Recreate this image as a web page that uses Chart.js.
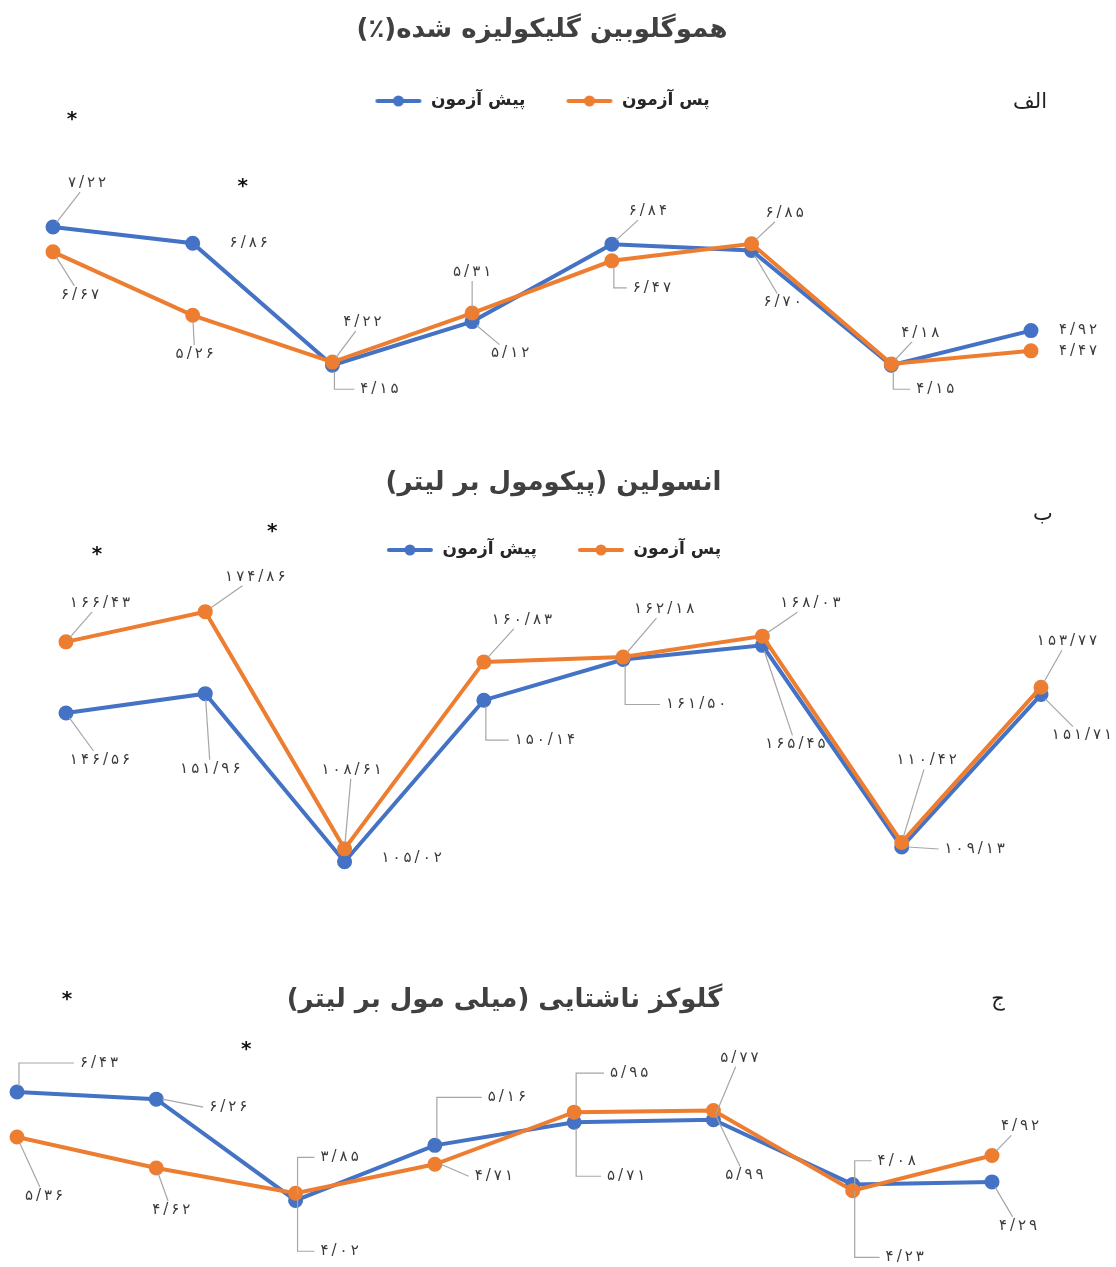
<!DOCTYPE html>
<html><head><meta charset="utf-8">
<script src="https://cdn.jsdelivr.net/npm/chart.js@4.4.0/dist/chart.umd.min.js"></script>
<style>
html,body{margin:0;padding:0;background:#fff;}
#wrap{position:relative;width:1116px;height:1267px;overflow:hidden;background:#fff;}
canvas{position:absolute;left:0;}
</style></head><body>
<div id="wrap">
<canvas id="cA" width="1116" height="440" style="top:0px"></canvas>
<canvas id="cB" width="1116" height="480" style="top:440px"></canvas>
<canvas id="cC" width="1116" height="317" style="top:950px"></canvas>
</div>
<script>
// ---------- DATA ----------
const categories = ['۱', '۲', '۳', '۴', '۵', '۶', '۷', '۸'];
const seriesNames = ['پیش آزمون', 'پس آزمون'];

const hba1cTitle = 'هموگلوبین گلیکولیزه شده(٪)';
const hba1cPre  = [7.22, 6.86, 4.15, 5.12, 6.84, 6.70, 4.15, 4.92];
const hba1cPost = [6.67, 5.26, 4.22, 5.31, 6.47, 6.85, 4.18, 4.47];

const insulinTitle = 'انسولین (پیکومول بر لیتر)';
const insulinPre  = [146.56, 151.96, 105.02, 150.14, 161.50, 165.45, 109.13, 151.71];
const insulinPost = [166.43, 174.86, 108.61, 160.83, 162.18, 168.03, 110.42, 153.77];

const glucoseTitle = 'گلوکز ناشتایی (میلی مول بر لیتر)';
const glucosePre  = [6.43, 6.26, 3.85, 5.16, 5.71, 5.77, 4.23, 4.29];
const glucosePost = [5.36, 4.62, 4.02, 4.71, 5.95, 5.99, 4.08, 4.92];

const panelLetters = ['الف', 'ب', 'ج'];
const significantIdx = [0, 1]; // categories marked with *

// ---------- LABEL PLACEMENT (layout only: offset from point, leader kind) ----------
const hba1cPreLbl  = [[34,-44,'d'],[56,0,'n'],[47,24,'L'],[38,32,'d'],[36,-33,'d'],[31,52,'d'],[44,24,'L'],[47,0,'n']];
const hba1cPostLbl = [[27,43,'d'],[2,39,'d'],[30,-40,'d'],[0,-41,'d'],[40,27,'L'],[33,-31,'d'],[29,-31,'d'],[47,0,'n']];
const insulinPreLbl  = [[34,47,'d'],[5,75,'d'],[67,-4,'n'],[61,40,'L'],[73,45,'L'],[33,99,'d'],[73,2,'L'],[41,41,'d']];
const insulinPostLbl = [[34,-39,'d'],[50,-35,'d'],[7,-79,'d'],[38,-42,'d'],[41,-48,'d'],[48,-33,'d'],[25,-82,'d'],[26,-46,'d']];
const glucosePreLbl  = [[82,-29,'L'],[72,8,'L'],[44,-43,'L'],[72,-48,'L'],[52,54,'L'],[26,-62,'d'],[52,73,'L'],[26,44,'d']];
const glucosePostLbl = [[27,59,'d'],[15,42,'d'],[44,58,'L'],[59,12,'L'],[55,-39,'L'],[31,65,'d'],[44,-30,'L'],[28,-29,'d']];

// ---------- STYLE ----------
const BLUE = '#4472C4', ORANGE = '#ED7D31';
const FONT = "'DejaVu Sans', sans-serif";
const LABEL_SPACING = 3;
const faDigits = '۰۱۲۳۴۵۶۷۸۹';
const toFa = v => v.toFixed(2).replace('.', '/').replace(/\d/g, d => faDigits[d]);

function legendMarker(color) {
  const c = document.createElement('canvas');
  c.width = 48; c.height = 14;
  const g = c.getContext('2d');
  g.strokeStyle = color; g.lineWidth = 4; g.lineCap = 'round';
  g.beginPath(); g.moveTo(3, 7); g.lineTo(45, 7); g.stroke();
  g.fillStyle = color; g.beginPath(); g.arc(24, 7, 5.5, 0, Math.PI * 2); g.fill();
  return c;
}
const markers = [legendMarker(ORANGE), legendMarker(BLUE)];

function spacedWidth(ctx, txt) {
  let w = 0;
  for (const ch of txt) w += ctx.measureText(ch).width;
  return w + LABEL_SPACING * (txt.length - 1);
}
function drawSpaced(ctx, txt, cx, cy) {
  let x = cx - spacedWidth(ctx, txt) / 2;
  ctx.textAlign = 'left';
  for (const ch of txt) { ctx.fillText(ch, x, cy); x += ctx.measureText(ch).width + LABEL_SPACING; }
}

const leaderLabels = {
  id: 'leaderLabels',
  afterDatasetsDraw(chart, args, opts) {
    const ctx = chart.ctx;
    ctx.save();
    ctx.font = '15px ' + FONT;
    ctx.textBaseline = 'middle';
    chart.data.datasets.forEach((ds, di) => {
      const meta = chart.getDatasetMeta(di);
      meta.data.forEach((pt, i) => {
        const [dx, dy, kind] = ds.labelPos[i];
        const px = pt.x, py = pt.y, lx = px + dx, ly = py + dy;
        const txt = toFa(ds.data[i]);
        const w = spacedWidth(ctx, txt);
        const hw = w / 2 + 3, hh = 9;
        ctx.strokeStyle = '#A6A6A6'; ctx.lineWidth = 1.2;
        ctx.beginPath();
        if (kind === 'd') {
          const vx = lx - px, vy = ly - py, L = Math.hypot(vx, vy);
          const ux = vx / L, uy = vy / L;
          const t = Math.min(ux ? hw / Math.abs(ux) : 1e9, uy ? hh / Math.abs(uy) : 1e9);
          ctx.moveTo(px + ux * 6, py + uy * 6);
          ctx.lineTo(lx - ux * t, ly - uy * t);
        } else if (kind === 'L') {
          const ex = lx - hw - 3;
          if (Math.abs(dy) < 14) {
            ctx.moveTo(px + 6, py); ctx.lineTo(ex, ly);
          } else {
            const s = Math.sign(dy);
            ctx.moveTo(px + 2, py + s * 6); ctx.lineTo(px + 2, ly); ctx.lineTo(ex, ly);
          }
        }
        ctx.stroke();
        ctx.fillStyle = '#3A3A3A';
        drawSpaced(ctx, txt, lx, ly);
      });
    });
    // significance asterisks + panel letter
    const o = chart.options.plugins.leaderLabels;
    ctx.textAlign = 'center';
    ctx.fillStyle = '#111';
    ctx.font = 'bold 20px ' + FONT;
    o.stars.forEach(([idx, sdx, sy]) => {
      ctx.fillText('*', chart.scales.x.getPixelForValue(idx) + sdx, sy);
    });
    ctx.font = '21px ' + FONT;
    ctx.fillStyle = '#222';
    ctx.fillText('\u200F' + o.letter + '\u200F', o.letterPos[0], o.letterPos[1]);
    ctx.restore();
  }
};

function makeChart(id, title, pre, post, preLbl, postLbl, cfg) {
  return new Chart(document.getElementById(id), {
    type: 'line',
    data: {
      labels: categories,
      datasets: [
        { label: seriesNames[1], data: post, labelPos: postLbl, borderColor: ORANGE, backgroundColor: ORANGE,
          pointBackgroundColor: ORANGE, pointBorderColor: ORANGE, borderWidth: 4, pointRadius: 5.5, tension: 0 },
        { label: seriesNames[0], data: pre, labelPos: preLbl, borderColor: BLUE, backgroundColor: BLUE,
          pointBackgroundColor: BLUE, pointBorderColor: BLUE, borderWidth: 4, pointRadius: 5.5, tension: 0 }
      ]
    },
    options: {
      responsive: false, animation: false, events: [],
      layout: { padding: cfg.pad },
      scales: {
        x: { type: 'category', display: false, offset: false },
        y: { display: false, min: cfg.ymin, max: cfg.ymax }
      },
      plugins: {
        tooltip: { enabled: false },
        title: { display: true, text: '\u200F' + title + '\u200F', color: '#404040',
                 font: { family: FONT, size: 26, weight: 'bold' }, padding: cfg.titlePad },
        legend: {
          display: cfg.legend, reverse: true,
          labels: {
            usePointStyle: true, pointStyleWidth: 48, padding: 40, color: '#262626',
            font: { family: FONT, size: 17, weight: 'bold' },
            generateLabels: chart => Chart.defaults.plugins.legend.labels.generateLabels(chart)
              .map(it => Object.assign(it, { pointStyle: markers[it.datasetIndex] }))
          }
        },
        leaderLabels: { stars: cfg.stars, letter: cfg.letter, letterPos: cfg.letterPos }
      }
    },
    plugins: [leaderLabels]
  });
}

makeChart('cA', hba1cTitle, hba1cPre, hba1cPost, hba1cPreLbl, hba1cPostLbl, {
  pad: { left: 53, right: 85, top: 0, bottom: 23 }, ymin: 3.0, ymax: 9.61,
  titlePad: { top: 14.4, bottom: 6.9 }, legend: true,
  stars: [[significantIdx[0], 19, 120], [significantIdx[1], 50, 187]],
  letter: panelLetters[0], letterPos: [1030, 103]
});
makeChart('cB', insulinTitle, insulinPre, insulinPost, insulinPreLbl, insulinPostLbl, {
  pad: { left: 66, right: 75, top: 0, bottom: 22.4 }, ymin: 95, ymax: 186.92,
  titlePad: { top: 27.4, bottom: 2.9 }, legend: true,
  stars: [[significantIdx[0], 31, 115], [significantIdx[1], 67, 92]],
  letter: panelLetters[1], letterPos: [1043, 75]
});
makeChart('cC', glucoseTitle, glucosePre, glucosePost, glucosePreLbl, glucosePostLbl, {
  pad: { left: 17, right: 124, top: 0, bottom: 39.3 }, ymin: 3.2, ymax: 6.835,
  titlePad: { top: 34.4, bottom: 59.4 }, legend: false,
  stars: [[significantIdx[0], 50, 50], [significantIdx[1], 90, 100]],
  letter: panelLetters[2], letterPos: [998, 50]
});
</script>
</body></html>
